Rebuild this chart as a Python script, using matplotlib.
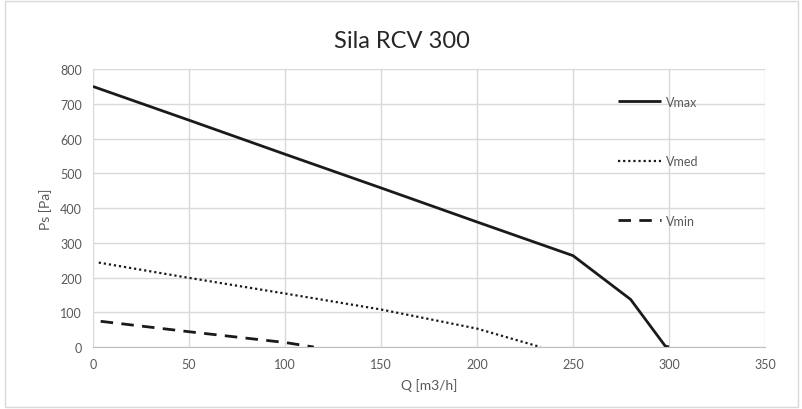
import matplotlib.pyplot as plt
from matplotlib.patches import Rectangle

plt.rcParams['font.family'] = ['Lato', 'DejaVu Sans']

# data
vmax_q = [0, 50, 100, 150, 200, 250, 280, 298, 300]
vmax_p = [750, 653, 555, 458, 360, 263, 137, 3, 0]
vmed_q = [3, 50, 100, 150, 200, 233]
vmed_p = [243, 199, 154, 108, 53, 0]
vmin_q = [4, 50, 100, 115]
vmin_p = [74, 44, 13, 0]

title = 'Sila RCV 300'
xlabel = 'Q [m3/h]'
ylabel = 'Ps [Pa]'
grey = '#595959'

fig = plt.figure(figsize=(8.03, 4.10), dpi=100)
fig.patches.append(Rectangle((0.006, 0.005), 0.988, 0.99, transform=fig.transFigure,
                             fill=False, edgecolor='#d9d9d9', linewidth=1))
ax = fig.add_axes([0.1158, 0.1512, 0.8369, 0.6778])

ax.plot(vmax_q, vmax_p, color='#1a1a1a', lw=2.0, solid_capstyle='butt', label='Vmax')
ax.plot(vmed_q, vmed_p, color='#1a1a1a', lw=1.6, linestyle=(0, (1, 1.3)), label='Vmed')
ax.plot(vmin_q, vmin_p, color='#1a1a1a', lw=2.0, linestyle=(0, (4.5, 3)), label='Vmin')

ax.set_xlim(0, 350)
ax.set_ylim(0, 800)
ax.set_xticks(range(0, 351, 50))
ax.set_yticks(range(0, 801, 100))
ax.grid(True, color='#d9d9d9', lw=1)
ax.set_axisbelow(True)
for s in ['top', 'right', 'left']:
    ax.spines[s].set_visible(False)
ax.spines['bottom'].set_color('#bfbfbf')
ax.tick_params(length=0, colors=grey, labelsize=9, pad=8)

ax.set_xlabel(xlabel, color=grey, fontsize=10, labelpad=6)
ax.set_ylabel(ylabel, color=grey, fontsize=10, labelpad=6)
fig.suptitle(title, fontsize=17, color='#262626', y=0.925)

leg = ax.legend(loc='upper left', bbox_to_anchor=(0.765, 0.945), frameon=False,
                labelspacing=3.8, handlelength=3.4, handletextpad=0.4, fontsize=9)
for t in leg.get_texts():
    t.set_color(grey)

plt.savefig('out.png')
